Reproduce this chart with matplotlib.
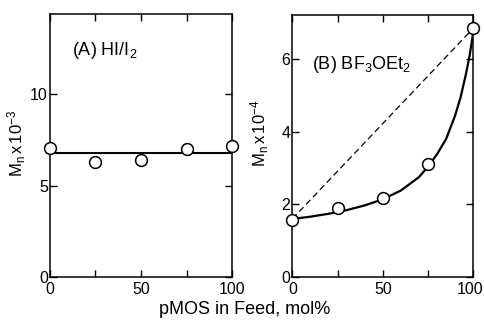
import matplotlib
matplotlib.use("Agg")
import matplotlib.pyplot as plt
import matplotlib.transforms as mtransforms

# Panel A data (HI/I2)
feed_pts = [0, 25, 50, 75, 100]
mn_a = [7.08, 6.3, 6.4, 7.04, 7.17]
line_a_x = [0, 100]
line_a_y = [6.78, 6.78]

# Panel B data (BF3OEt2)
mn_b = [1.57, 1.9, 2.18, 3.1, 6.84]
curve_b_x = [0, 10, 20, 30, 40, 50, 60, 70, 75, 80, 85, 90, 93, 96, 98, 100]
curve_b_y = [1.6, 1.66, 1.74, 1.84, 1.97, 2.14, 2.38, 2.75, 3.04, 3.38, 3.8, 4.45, 4.95, 5.6, 6.1, 6.75]
dash_b_x = [0, 100]
dash_b_y = [1.6, 6.84]

yticks_a = [0, 5, 10]
yticks_b = [0, 2, 4, 6]

plt.rcParams['font.family'] = ['Liberation Sans', 'DejaVu Sans']
plt.rcParams['mathtext.fontset'] = 'custom'
plt.rcParams['mathtext.rm'] = 'Liberation Sans'
plt.rcParams['mathtext.it'] = 'Liberation Sans'
plt.rcParams['mathtext.default'] = 'regular'

fig = plt.figure(figsize=(4.84, 3.2), dpi=100)
axA = fig.add_axes([0.103, 0.134, 0.377, 0.822])
axB = fig.add_axes([0.604, 0.134, 0.374, 0.819])

fs = 12
tfs = 11.5

def style(ax, ylim, yticks):
    ax.set_xlim(0, 100)
    ax.set_ylim(*ylim)
    ax.set_xticks([0, 25, 50, 75, 100])
    ax.set_xticklabels(['0', '', '50', '', '100'], fontsize=tfs)
    ax.set_yticks(yticks)
    ax.set_yticklabels([str(t) for t in yticks], fontsize=tfs)
    ax.tick_params(direction='in', length=5, width=1, top=True, right=True)
    ax.tick_params(axis='x', pad=3.5)
    ax.tick_params(axis='y', pad=1.5)
    for s in ax.spines.values():
        s.set_linewidth(1.1)

# Panel A
axA.plot(line_a_x, line_a_y, color='black', lw=1.5, zorder=2)
axA.plot(feed_pts, mn_a, 'o', ms=8.5, mfc='white', mec='black', mew=1.1, zorder=3, clip_on=False)
style(axA, (0, 14.4), yticks_a)
axA.set_ylabel(r'$M_n\,x\,10^{-3}$', fontsize=fs)
axA.yaxis.set_label_coords(-0.118, 0.51)
axA.text(0.12, 0.86, r'(A) HI/I$_2$', transform=axA.transAxes, fontsize=fs + 1, va='center')

# Panel B
axB.plot(dash_b_x, dash_b_y, color='black', lw=0.9, ls=(0, (5, 3)), zorder=2)
axB.plot(curve_b_x, curve_b_y, color='black', lw=1.6, zorder=2)
axB.plot(feed_pts, mn_b, 'o', ms=8.5, mfc='white', mec='black', mew=1.1, zorder=3, clip_on=False)
style(axB, (0, 7.2), yticks_b)
axB.set_ylabel(r'$M_n\,x\,10^{-4}$', fontsize=fs)
axB.yaxis.set_label_coords(-0.12, 0.55)
axB.text(0.11, 0.81, r'(B) BF$_3$OEt$_2$', transform=axB.transAxes, fontsize=fs + 1, va='center')

# nudge the last x tick label of panel B left so it fits inside the figure
lbl = axB.get_xticklabels()[-1]
lbl.set_transform(lbl.get_transform() + mtransforms.ScaledTranslation(-3 / 100, 0, fig.dpi_scale_trans))

fig.text(0.506, 0.018, 'pMOS in Feed, mol%', ha='center', va='baseline', fontsize=fs + 1)

fig.savefig('out.png', dpi=100)
